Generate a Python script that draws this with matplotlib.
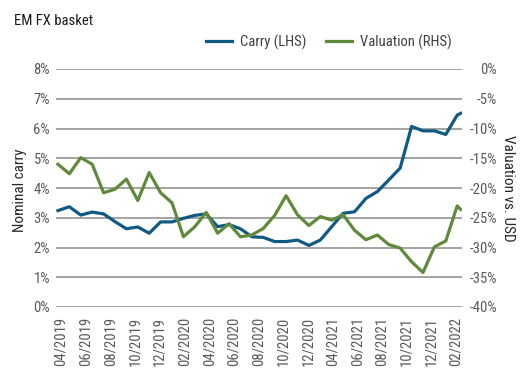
import matplotlib
matplotlib.use("Agg")
import matplotlib.pyplot as plt
import numpy as np
from matplotlib import font_manager as fm
from matplotlib.lines import Line2D

# ---- data ----
x_pos = list(range(36)) + [35.3]
carry = [3.24, 3.37, 3.09, 3.19, 3.13, 2.87, 2.63, 2.69, 2.48, 2.86, 2.86, 2.98,
         3.08, 3.13, 2.70, 2.77, 2.63, 2.36, 2.34, 2.20, 2.20, 2.25, 2.07, 2.25,
         2.70, 3.15, 3.20, 3.65, 3.88, 4.27, 4.67, 6.07, 5.92, 5.92, 5.80, 6.45, 6.51]
valuation = [-16.0, -17.6, -14.9, -16.0, -20.8, -20.2, -18.5, -22.1, -17.4, -20.8,
             -22.5, -28.2, -26.5, -24.1, -27.6, -26.0, -28.2, -27.9, -26.8, -24.6,
             -21.3, -24.5, -26.3, -24.8, -25.4, -24.5, -27.1, -28.7, -27.9, -29.5,
             -30.1, -32.4, -34.2, -29.9, -28.9, -23.0, -23.6]
tick_labels = ["04/2019", "06/2019", "08/2019", "10/2019", "12/2019", "02/2020",
               "04/2020", "06/2020", "08/2020", "10/2020", "12/2020", "04/2021",
               "06/2021", "08/2021", "10/2021", "12/2021", "02/2022"]
left_ticks = [0, 1, 2, 3, 4, 5, 6, 7, 8]
right_ticks = [0, -5, -10, -15, -20, -25, -30, -35, -40]

names = {f.name for f in fm.fontManager.ttflist}
fam = "Roboto"
for cand in ["Roboto Condensed", "Liberation Sans Narrow", "Arial Narrow",
             "PT Sans Narrow", "Archivo Narrow", "Open Sans Condensed"]:
    if cand in names:
        fam = cand
        break
plt.rcParams['font.family'] = [fam, 'DejaVu Sans']

blue = "#0f5a84"
green = "#5f8a3b"
grid_c = "#8a8a8a"
tick_c = "#595959"
FS = 10.5

fig = plt.figure(figsize=(5.30, 3.72), dpi=100)
ax = fig.add_axes([56/530, 65/372, 406/530, 238/372])
ax2 = ax.twinx()

ax.plot(x_pos, carry, color=blue, lw=2.3, solid_joinstyle='round', zorder=3)
ax2.plot(x_pos, valuation, color=green, lw=2.3, solid_joinstyle='round', zorder=3)

ax.set_ylim(0, 8)
ax2.set_ylim(-40, 0)
ax.set_xlim(-0.17, 35.42)

ax.set_yticks(left_ticks)
ax.set_yticklabels([f"{t}%" for t in left_ticks])
ax2.set_yticks(right_ticks)
ax2.set_yticklabels([f"{t}%" for t in right_ticks])

for t in left_ticks:
    ax.axhline(t, color=grid_c, lw=1.1, zorder=1)

tick_pos = np.linspace(0.27, 34.9, len(tick_labels))
ax.set_xticks(tick_pos)
ax.set_xticklabels(tick_labels, rotation=90)

for a in (ax, ax2):
    for s in a.spines.values():
        s.set_visible(False)

ax.tick_params(axis='y', length=0, pad=4.3, labelsize=FS, colors=tick_c)
ax.tick_params(axis='x', length=0, pad=7, labelsize=FS, colors=tick_c)
ax2.tick_params(axis='y', length=0, pad=25.2, labelsize=FS, colors=tick_c)
for lab in ax2.get_yticklabels():
    lab.set_horizontalalignment('right')

fig.text(20/530, 1 - 190/372, "Nominal carry", fontsize=11, color="#262626",
         rotation=90, ha='center', va='center')
fig.text(508/530, 1 - 188/372, "Valuation vs. USD", fontsize=11, color="#262626",
         rotation=270, ha='center', va='center')

fig.text(14/530, 1 - 25/372, "EM FX basket", fontsize=10.5, color="#1a1a1a",
         ha='left', va='baseline')

handles = [Line2D([], [], color=blue, lw=2.3), Line2D([], [], color=green, lw=2.3)]
fig.legend(handles, ["Carry (LHS)", "Valuation (RHS)"], loc='center',
           bbox_to_anchor=(329/530, 1 - 42/372), ncol=2, frameon=False,
           fontsize=10.5, handlelength=1.8, columnspacing=1.35, handletextpad=0.55,
           labelcolor="#404040", borderpad=0, borderaxespad=0)

fig.savefig("out.png", dpi=100)
